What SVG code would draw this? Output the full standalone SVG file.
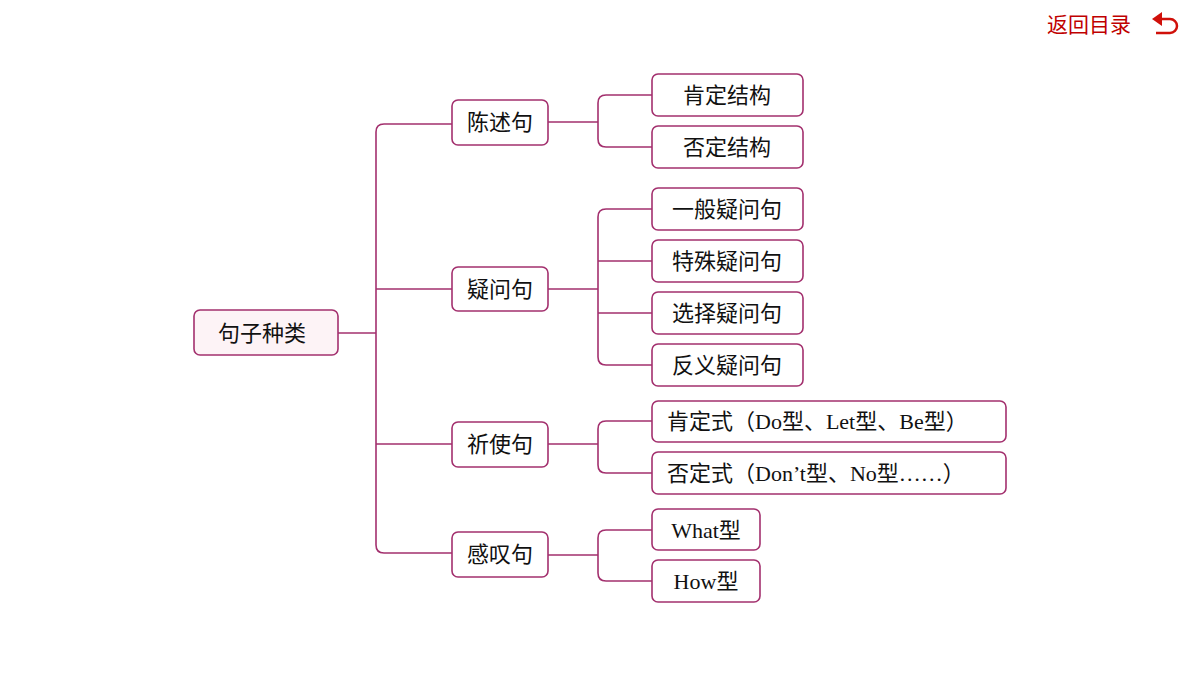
<svg xmlns="http://www.w3.org/2000/svg" width="1200" height="675" viewBox="0 0 1200 675">
<style>
.b{fill:#fff;stroke:#a3306e;stroke-width:1.6}
.r{fill:#fdf3f6;stroke:#a3306e;stroke-width:1.6}
.c{fill:none;stroke:#a3306e;stroke-width:1.6}
text{font-family:"Liberation Serif","Noto Sans CJK SC",serif;font-size:22px;fill:#111;dominant-baseline:central}
.s{font-family:"Liberation Sans","Noto Sans CJK SC",sans-serif}
</style>
<rect width="1200" height="675" fill="#fff"/>
<g id="back">
<text x="1047" y="24" class="s" style="fill:#c00000;font-size:21px">返回目录</text>
<path d="M1160 19 H1170 A7 7 0 0 1 1170 33 H1156" fill="none" stroke="#d0100a" stroke-width="2.5"/>
<path d="M1152 19 L1162 12 L1162 26 Z" fill="#d0100a"/>
</g>
<g id="connectors">
<path class="c" d="M338 333 H376"/>
<path class="c" d="M452 124 H384 Q376 124 376 132 V545 Q376 553 384 553 H452"/>
<path class="c" d="M376 289 H452 M376 444 H452"/>
<path class="c" d="M548 122 H598 M652 95 H606 Q598 95 598 103 V139 Q598 147 606 147 H652"/>
<path class="c" d="M548 289 H598 M652 209 H606 Q598 209 598 217 V357 Q598 365 606 365 H652 M598 261 H652 M598 313 H652"/>
<path class="c" d="M548 444 H598 M652 421 H606 Q598 421 598 429 V465 Q598 473 606 473 H652"/>
<path class="c" d="M548 555 H598 M652 530 H606 Q598 530 598 538 V573 Q598 581 606 581 H652"/>
</g>
<g id="root"><rect class="r" x="194" y="310" width="144" height="45" rx="6"/><text x="262" y="333" text-anchor="middle" class="s">句子种类</text></g>
<g id="n1"><rect class="b" x="452" y="100" width="96" height="45" rx="6"/><text x="500" y="122" text-anchor="middle">陈述句</text></g>
<g id="n2"><rect class="b" x="452" y="267" width="96" height="44" rx="6"/><text x="500" y="289" text-anchor="middle">疑问句</text></g>
<g id="n3"><rect class="b" x="452" y="422" width="96" height="45" rx="6"/><text x="500" y="444" text-anchor="middle">祈使句</text></g>
<g id="n4"><rect class="b" x="452" y="532" width="96" height="45" rx="6"/><text x="500" y="554" text-anchor="middle">感叹句</text></g>
<g id="l1"><rect class="b" x="652" y="74" width="151" height="42" rx="6"/><text x="727" y="95" text-anchor="middle">肯定结构</text></g>
<g id="l2"><rect class="b" x="652" y="126" width="151" height="42" rx="6"/><text x="727" y="147" text-anchor="middle">否定结构</text></g>
<g id="l3"><rect class="b" x="652" y="188" width="151" height="42" rx="6"/><text x="727" y="209" text-anchor="middle">一般疑问句</text></g>
<g id="l4"><rect class="b" x="652" y="240" width="151" height="42" rx="6"/><text x="727" y="261" text-anchor="middle">特殊疑问句</text></g>
<g id="l5"><rect class="b" x="652" y="292" width="151" height="42" rx="6"/><text x="727" y="313" text-anchor="middle">选择疑问句</text></g>
<g id="l6"><rect class="b" x="652" y="344" width="151" height="42" rx="6"/><text x="727" y="365" text-anchor="middle">反义疑问句</text></g>
<g id="l7"><rect class="b" x="652" y="401" width="354" height="41" rx="6"/><text x="667" y="421">肯定式（Do型、Let型、Be型）</text></g>
<g id="l8"><rect class="b" x="652" y="452" width="354" height="42" rx="6"/><text x="667" y="473">否定式（Don’t型、No型……）</text></g>
<g id="l9"><rect class="b" x="652" y="509" width="108" height="41" rx="6"/><text x="706" y="530" text-anchor="middle">What型</text></g>
<g id="l10"><rect class="b" x="652" y="560" width="108" height="42" rx="6"/><text x="706" y="581" text-anchor="middle">How型</text></g>
</svg>
